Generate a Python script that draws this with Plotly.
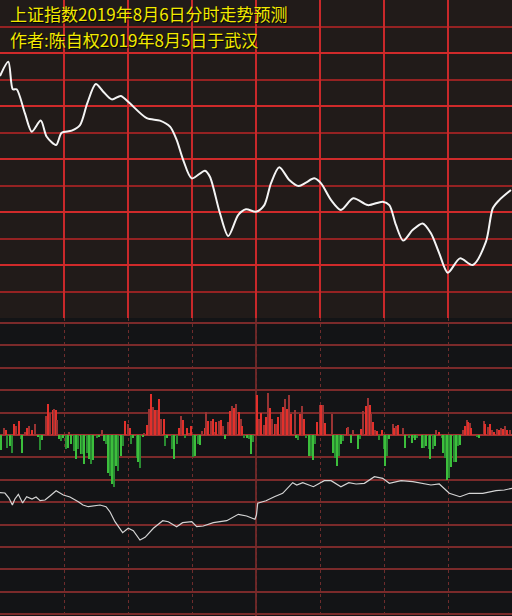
import plotly.graph_objects as go

# ---- top panel: predicted intraday path (minute of session, index level)
price_t = [0, 3.9, 6.0, 7.8, 11.7, 14.9, 19.1, 21.9, 26.3, 28.9, 33.6, 37.5, 40.9, 44.9,
           48.4, 52.4, 56.6, 60.1, 68.8, 75.0, 79.7, 82.8, 85.9, 89.9, 96.1, 98.4, 103.1,
           107.0, 111.7, 115.3, 120.0, 123.9, 127.0, 130.9, 135.6, 140.0, 143.4, 147.3,
           150.5, 155.2, 159.8, 165.6, 172.4, 179.4, 182.5, 185.6, 189.0, 193.4, 198.1,
           202.0, 205.9, 209.9, 215.6, 221.6, 227.8, 231.0, 234.0, 239.5]
price_v = [2821.3, 2826.7, 2816.3, 2816.3, 2807.2, 2800.3, 2804.5, 2798.4, 2795.3, 2799.9,
           2800.7, 2802.8, 2811.0, 2818.3, 2815.4, 2812.5, 2813.8, 2811.6, 2805.4, 2804.5,
           2802.2, 2797.2, 2789.6, 2782.7, 2785.6, 2783.3, 2769.5, 2760.9, 2768.9, 2771.0,
           2770.1, 2772.6, 2780.8, 2786.9, 2782.1, 2779.8, 2781.1, 2782.7, 2780.8, 2774.5,
           2770.8, 2775.2, 2772.6, 2773.9, 2772.6, 2765.1, 2759.2, 2763.2, 2765.7, 2762.0,
           2754.4, 2747.1, 2752.5, 2750.0, 2758.8, 2771.4, 2774.5, 2778.3]

# ---- bottom panel: flow bars (minute, value)
flow_t = [0.6, 1.9, 2.7, 3.4, 4.7, 5.8, 6.7, 7.5, 8.8, 9.7, 10.5, 11.9, 12.8, 13.6, 14.9,
          16.5, 18.0, 18.8, 19.7, 21.7, 22.6, 23.6, 24.7, 25.5, 26.1, 26.7, 27.8, 28.7,
          29.7, 30.9, 31.7, 32.5, 33.3, 34.8, 35.6, 36.6, 37.8, 38.6, 39.5, 40.9, 41.7,
          42.5, 43.7, 45.6, 46.4, 47.7, 48.8, 49.7, 50.8, 51.6, 52.6, 53.4, 54.4, 55.5,
          56.6, 57.8, 58.6, 60.1, 60.9, 61.4, 62.5, 64.1, 64.8, 65.6, 66.9, 67.6, 68.8,
          70.0, 70.6, 71.6, 72.8, 73.7, 74.7, 75.6, 76.9, 77.5, 78.4, 80.6, 81.6, 82.8,
          83.8, 84.7, 85.9, 86.9, 87.7, 88.5, 89.7, 90.6, 91.5, 93.0, 93.8, 94.7, 96.0,
          96.7, 97.6, 99.0, 100.0, 100.6, 101.4, 102.7, 103.7, 104.7, 105.6, 106.7, 107.7,
          108.9, 109.8, 110.8, 111.9, 112.8, 113.6, 114.5, 115.6, 116.6, 117.5, 118.7,
          120.6, 121.5, 122.5, 123.8, 124.8, 125.8, 126.7, 127.6, 128.8, 129.5, 130.5,
          131.7, 132.7, 133.6, 134.5, 135.5, 136.3, 138.1, 138.8, 139.7, 140.6, 141.7,
          142.6, 143.6, 144.8, 145.6, 146.6, 147.8, 148.7, 149.9, 150.5, 151.4, 152.3,
          155.8, 156.2, 157.2, 158.1, 159.0, 160.0, 160.9, 162.5, 163.3, 164.7, 165.6,
          167.8, 168.8, 169.4, 170.3, 171.4, 172.4, 173.3, 174.0, 175.0, 175.9, 176.9,
          177.7, 178.9, 179.9, 180.6, 181.5, 182.5, 184.1, 184.8, 185.8, 186.6, 188.8,
          190.0, 191.9, 193.1, 194.1, 194.7, 195.6, 197.8, 198.8, 199.8, 201.0, 201.7,
          202.8, 203.8, 204.5, 205.9, 207.2, 207.8, 208.7, 209.7, 210.5, 211.5, 212.8,
          213.8, 214.7, 215.6, 216.9, 217.8, 218.8, 219.5, 220.2, 220.9, 223.6, 224.4,
          226.9, 227.5, 228.8, 229.8, 230.8, 231.6, 232.8, 233.8, 234.8, 235.6, 236.6,
          237.5, 238.9]
flow_v = [-15, 7, 5, -13, -11, -18, 11, 9, 14, -4, -18, 3, 7, 9, 5,
          11, -2, -15, -5, 19, 31, 22, 25, 26, 25, 15, -4, -6,
          -3, -14, -13, 3, -9, -16, -24, -14, -19, -19, -29, -18, -24,
          -29, -25, -3, -2, 5, -6, -9, -38, -41, -49, -52, -31, -36,
          -21, -11, 14, 11, 7, -9, -3, -23, -27, -33, -2, 2, 10,
          26, 41, 28, 25, 25, 36, 16, 16, -11, -3, -14, -24, -9,
          7, 19, 15, -3, 7, 2, 9, -22, -21, -9, -10, 4, 7,
          23, 14, 14, 16, 3, 13, 14, 15, 9, -4, 13, 24,
          29, 27, 31, 23, 16, 9, -3, -3, -4, -19, -7,
          40, 16, 22, 10, 18, 42, 27, 16, 11, 11, 18,
          23, 28, 36, 26, 40, 21, 25, -3, -5, 21, 29,
          16, -3, -21, -21, -25, -9, 13, 30, 30, 30, 12,
          21, -18, -23, -31, -21, -9, -6, 7, 8, -8, 5,
          -14, -4, 6, 24, 29, 37, 30, 21, 13, 5, 4,
          -5, 5, -14, -31, -21, -4, 11, 7, 9, 10, 7,
          -13, -3, -8, -3, -5, -3, -13, -13, -11, -14, -24,
          -14, -11, 5, 3, -3, -18, -23, -45, -43, -32, -27,
          -27, -11, -10, 5, 9, 15, 13, 12, 7, -2, -3,
          14, 11, 8, 11, 5, 3, 6, 5, 7, 6, 9,
          5, 5]

# ---- bottom panel: cumulative line (minute, value)
cum_t = [0, 2.3, 4.2, 5.8, 7.0, 8.6, 10.6, 12.5, 15.0, 16.9, 18.8, 21.1, 23.4, 26.3, 29.7,
         32.8, 36.7, 38.9, 41.4, 44.5, 46.9, 49.7, 51.6, 53.9, 57.5, 60.1, 62.5, 65.6,
         68.0, 71.9, 76.3, 78.9, 82.8, 85.6, 89.9, 92.2, 95.3, 100.0, 106.3, 111.7, 115.6,
         119.5, 120.2, 120.8, 124.7, 128.6, 132.5, 137.2, 139.1, 141.9, 146.9, 152.0,
         155.2, 159.8, 163.5, 166.9, 170.8, 175.5, 179.4, 182.5, 188.0, 193.5, 198.1,
         202.0, 205.9, 210.6, 215.6, 220.0, 226.3, 232.5, 236.4, 240]
cum_v = [-57.7, -58, -63, -70, -64, -59.3, -68, -61.7, -64, -62, -65.7, -65, -61, -55.7, -60,
         -62, -66.7, -70, -71.7, -71, -70, -71.7, -77, -86.7, -97.7, -93.3, -95.7, -105,
         -102.3, -93.3, -85.7, -86.7, -91.7, -87.7, -86.7, -91.7, -91, -87.7, -85.7, -79.3, -81,
         -84.3, -80, -68.3, -65.7, -61.7, -58.3, -47.7, -50, -47.7, -51.7, -45.7,
         -45.7, -51.7, -47.7, -49, -48.3, -41.7, -43.3, -48.3, -45.7, -46.7, -48.3,
         -50, -49, -58.3, -61.7, -58.3, -58.3, -55.7, -55, -53.3]

title_lines = ["上证指数2019年8月6日分时走势预测", "作者:陈自权2019年8月5日于武汉"]

W, H = 512, 616
split = 1 - 318 / H

fig = go.Figure()
fig.add_trace(go.Scatter(x=price_t, y=price_v, mode="lines",
                         line=dict(color="#f4f4f4", width=2, shape="spline", smoothing=0.8),
                         xaxis="x", yaxis="y", hoverinfo="skip", showlegend=False))

bar_colors = []
for i, v in enumerate(flow_v):
    if v >= 0:
        bar_colors.append("#e3302b" if i % 2 == 0 else "#9a3434")
    else:
        bar_colors.append("#3cbf3c" if i % 2 == 0 else "#2a8c32")
fig.add_trace(go.Bar(x=flow_t, y=flow_v, width=0.55,
                     marker=dict(color=bar_colors, line=dict(width=0)),
                     xaxis="x2", yaxis="y2", hoverinfo="skip", showlegend=False))
fig.add_trace(go.Scatter(x=cum_t, y=cum_v, mode="lines",
                         line=dict(color="#d4d4d4", width=1.2),
                         xaxis="x2", yaxis="y2", hoverinfo="skip", showlegend=False))

title_centers = [14, 39]
annotations = []
for txt, cy in zip(title_lines, title_centers):
    annotations.append(dict(
        text=txt, xref="paper", yref="paper", x=8 / W, y=1 - cy / H,
        xanchor="left", yanchor="middle", showarrow=False,
        font=dict(family="Noto Sans CJK SC", size=17, color="#f2ea00",
                  shadow="1px 1px 1px #000000")))

fig.update_layout(
    width=W, height=H, margin=dict(l=0, r=0, t=0, b=0),
    paper_bgcolor="#131416", plot_bgcolor="rgba(0,0,0,0)",
    bargap=0, showlegend=False,
    xaxis=dict(domain=[0, 1], range=[0, 240], anchor="y", showgrid=True, tick0=0, dtick=30,
               gridcolor="#c8282a", gridwidth=1.5, showticklabels=False, zeroline=False,
               ticks="", fixedrange=True),
    yaxis=dict(domain=[split, 1], range=[2730, 2850], anchor="x", showgrid=True,
               tick0=2730, dtick=20, gridcolor="#cf2a2a", gridwidth=1.5,
               minor=dict(tick0=2730, dtick=10, showgrid=True, gridcolor="#952222", gridwidth=2),
               showticklabels=False, zeroline=False, ticks=""),
    xaxis2=dict(domain=[0, 1], range=[0, 240], anchor="y2", showgrid=True, tick0=0, dtick=30,
                gridcolor="#6e2c2c", gridwidth=1, griddash="dot", showticklabels=False,
                zeroline=False, ticks=""),
    yaxis2=dict(domain=[0, split], range=[-181, 117], anchor="x2", showgrid=True,
                tick0=0, dtick=22.4, gridcolor="#7a2a2a", gridwidth=1.5,
                zeroline=True, zerolinecolor="#a33030", zerolinewidth=2,
                showticklabels=False, ticks=""),
    shapes=[
        dict(type="rect", xref="paper", yref="paper", x0=0, x1=1, y0=split, y1=1,
             fillcolor="#211b19", line=dict(width=0), layer="below"),
        dict(type="line", xref="x2", yref="paper", x0=120, x1=120, y0=0, y1=split,
             line=dict(color="#8a2c2c", width=1.5), layer="below"),
    ],
    annotations=annotations,
)

fig.write_html("out.html", config={"displayModeBar": False},
               post_script="document.body.style.margin='0';document.body.style.padding='0';")
